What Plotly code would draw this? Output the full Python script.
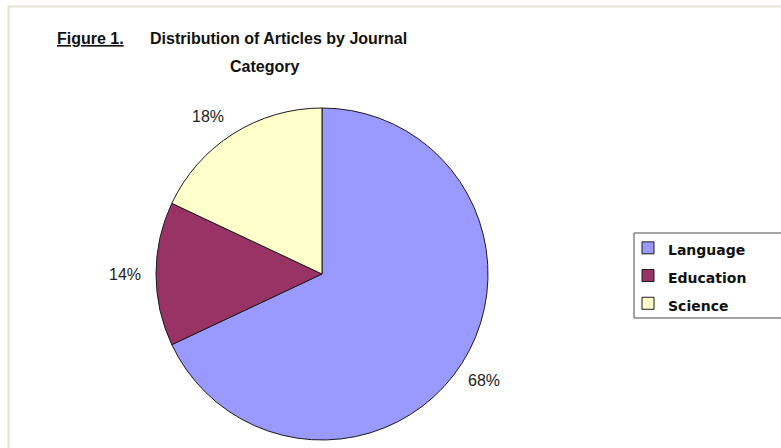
import math
import plotly.graph_objects as go

# ---- data ----
categories = ["Language", "Education", "Science"]
shares = [68, 14, 18]
slice_colors = ["#9999FF", "#993366", "#FFFFCC"]
title_tag = "Figure 1."
title_line1 = "Distribution of Articles by Journal"
title_line2 = "Category"

W, H = 781, 448

# pie placement (pixels)
pie_cx, pie_cy, pie_r = 322, 274, 166
dom_x = [(pie_cx - pie_r) / W, (pie_cx + pie_r) / W]
dom_y = [1 - (pie_cy + pie_r) / H, 1 - (pie_cy - pie_r) / H]

fig = go.Figure()
fig.add_trace(go.Pie(
    labels=[f'<span style="font-size:14px">{c}</span>' for c in categories],
    values=shares,
    sort=False,
    direction="clockwise",
    rotation=0,
    marker=dict(colors=slice_colors, line=dict(color="#1a1a1a", width=1)),
    textinfo="none",
    hoverinfo="label+percent",
    domain=dict(x=dom_x, y=dom_y),
    showlegend=True,
))

# percentage labels placed outside the pie at slice mid-angles (Excel-like corner anchoring)
annotations = []
total = sum(shares)
cum = 0
half_w, half_h = 17.5, 6
for v in shares:
    mid = (cum + v / 2) / total * 2 * math.pi
    cum += v
    s, c = math.sin(mid), math.cos(mid)
    px = pie_cx + 1.08 * pie_r * s
    py = pie_cy - 1.08 * pie_r * c
    if abs(s) > 0.3:
        px += half_w * (1 if s > 0 else -1) * (0.6 if s > 0 else 1)
    if abs(c) > 0.3:
        py -= half_h * (1 if c > 0 else -1) * (1.0 if c > 0 else 1.8)
    annotations.append(dict(
        x=px / W, y=1 - py / H, xref="paper", yref="paper",
        text=f"{round(v / total * 100)}%", showarrow=False,
        xanchor="center", yanchor="middle",
        font=dict(family="Liberation Sans, Arial, sans-serif", size=16, color="#222222"),
    ))

title_font = dict(family="Liberation Sans, Arial, sans-serif", size=16, color="#111111", weight="bold")
annotations += [
    dict(x=55 / W, y=1 - 38 / H, xref="paper", yref="paper", text=f"<u>{title_tag}</u>",
         showarrow=False, xanchor="left", yanchor="middle", font=title_font),
    dict(x=148 / W, y=1 - 38 / H, xref="paper", yref="paper", text=title_line1,
         showarrow=False, xanchor="left", yanchor="middle", font=title_font),
    dict(x=264 / W, y=1 - 66 / H, xref="paper", yref="paper", text=title_line2,
         showarrow=False, xanchor="center", yanchor="middle", font=title_font),
]

shapes = [
    # thin frame lines at top and left
    dict(type="line", xref="paper", yref="paper", x0=8 / W, x1=1, y0=1 - 6.5 / H, y1=1 - 6.5 / H,
         line=dict(color="#E6E2D2", width=2), layer="below"),
    dict(type="line", xref="paper", yref="paper", x0=8.5 / W, x1=8.5 / W, y0=0, y1=1 - 6 / H,
         line=dict(color="#E6E2D2", width=2), layer="below"),
    # legend box
    dict(type="rect", xref="paper", yref="paper", x0=634 / W, x1=1.02, y0=1 - 318 / H, y1=1 - 233 / H,
         line=dict(color="#4a4a4a", width=1), fillcolor="white", layer="below"),
]

fig.update_layout(
    width=W, height=H,
    margin=dict(l=0, r=0, t=0, b=0),
    paper_bgcolor="white",
    plot_bgcolor="white",
    annotations=annotations,
    shapes=shapes,
    legend=dict(
        x=628 / W, y=1 - 229 / H, xanchor="left", yanchor="top",
        bgcolor="rgba(0,0,0,0)", borderwidth=0,
        font=dict(family="DejaVu Sans, Verdana, sans-serif", size=19, color="#111111", weight="bold"),
    ),
)

fig.write_html("out.html", config={"displayModeBar": False},
               post_script="document.body.style.margin='0px';")
